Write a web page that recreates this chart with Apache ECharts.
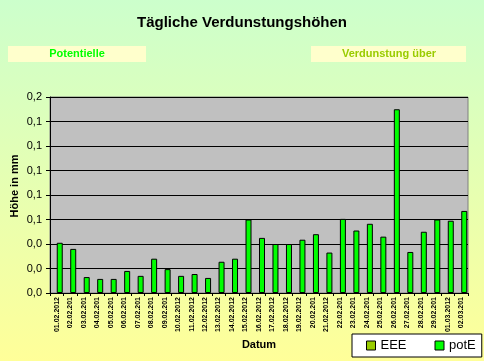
<!DOCTYPE html>
<html>
<head>
<meta charset="utf-8">
<script src="https://cdn.jsdelivr.net/npm/echarts@6/dist/echarts.min.js"></script>
<style>
html,body{margin:0;padding:0;}
#chart{width:484px;height:361px;}
</style>
</head>
<body>
<div id="chart"></div>
<script>
var categories = ['01.02.2012','02.02.201','03.02.201','04.02.201','05.02.201','06.02.201','07.02.201','08.02.201','09.02.201','10.02.2012','11.02.2012','12.02.2012','13.02.2012','14.02.2012','15.02.2012','16.02.2012','17.02.2012','18.02.2012','19.02.2012','20.02.201','21.02.2012','22.02.201','23.02.201','24.02.201','25.02.201','26.02.201','27.02.201','28.02.201','29.02.201','01.03.2012','02.03.201'];
var potE = [0.041,0.036,0.013,0.0115,0.0115,0.018,0.014,0.028,0.0195,0.014,0.0155,0.0123,0.0255,0.028,0.060,0.045,0.040,0.040,0.0435,0.048,0.033,0.0605,0.051,0.0565,0.046,0.150,0.0335,0.050,0.060,0.059,0.067];
var EEE = categories.map(function(){ return '-'; });
var yTickValues = [0,0.02,0.04,0.06,0.08,0.10,0.12,0.14,0.16];
var yTickLabels = ['0,0','0,0','0,0','0,1','0,1','0,1','0,1','0,1','0,2'];

var chart = echarts.init(document.getElementById('chart'), null, {renderer:'canvas'});
var font = 'Arial, "Liberation Sans", sans-serif';
chart.setOption({
  animation:false,
  backgroundColor:{type:'linear',x:0,y:0,x2:0,y2:1,colorStops:[{offset:0,color:'#CCFFCC'},{offset:1,color:'#FFFF99'}]},
  textStyle:{fontFamily:font},
  title:{text:'Tägliche Verdunstungshöhen',left:'center',top:10,textStyle:{fontSize:15,fontWeight:'bold',color:'#000',fontFamily:font}},
  graphic:[
    {type:'rect',shape:{x:8,y:46,width:138,height:16},style:{fill:'#FFFFCC'}},
    {type:'text',x:77,y:54,style:{text:'Potentielle',fill:'#00FF00',font:'bold 11px '+font,textAlign:'center',textVerticalAlign:'middle'}},
    {type:'rect',shape:{x:311,y:46,width:155,height:16},style:{fill:'#FFFFCC'}},
    {type:'text',x:389,y:54,style:{text:'Verdunstung über',fill:'#99CC00',font:'bold 11px '+font,textAlign:'center',textVerticalAlign:'middle'}},
    {type:'text',x:15,y:186,rotation:Math.PI/2,style:{text:'Höhe in mm',fill:'#000',font:'bold 11px '+font,textAlign:'center',textVerticalAlign:'middle'}}
  ],
  legend:{
    left:352,top:334,orient:'horizontal',
    backgroundColor:'#FFFFFF',borderColor:'#000',borderWidth:1,borderRadius:0,
    padding:[5,6,5,14],itemGap:28,itemWidth:9,itemHeight:9,
    icon:'rect',
    textStyle:{fontSize:13,color:'#000',fontFamily:font},
    data:[{name:'EEE',itemStyle:{color:'#99CC00',borderColor:'#000',borderWidth:1}},{name:'potE',itemStyle:{color:'#00FF00',borderColor:'#000',borderWidth:1}}]
  },
  grid:{left:50,right:16,top:97,bottom:68,containLabel:false,outerBoundsMode:'none',show:true,backgroundColor:'#C0C0C0',borderColor:'#808080',borderWidth:1},
  xAxis:{
    type:'category',data:categories,boundaryGap:true,
    name:'Datum',nameLocation:'middle',nameGap:46,
    nameTextStyle:{fontSize:11,fontWeight:'bold',color:'#000'},
    axisLine:{lineStyle:{color:'#000',width:1}},
    axisTick:{show:true,interval:0,length:3,lineStyle:{color:'#000'}},
    axisLabel:{interval:0,rotate:90,fontSize:7,fontWeight:'bold',color:'#000',margin:4}
  },
  yAxis:{
    type:'value',min:0,max:0.16,interval:0.02,
    axisLine:{show:true,lineStyle:{color:'#000',width:1}},
    axisTick:{show:true,length:4,lineStyle:{color:'#000'}},
    splitLine:{show:true,lineStyle:{color:'#000',width:1}},
    axisLabel:{fontSize:11,color:'#000',margin:8,formatter:function(v){
      for(var i=0;i<yTickValues.length;i++){ if(Math.abs(v-yTickValues[i])<1e-9) return yTickLabels[i]; }
      return '';
    }}
  },
  series:[
    {name:'EEE',type:'bar',data:EEE,barWidth:6,barGap:'0%',itemStyle:{color:'#99CC00',borderColor:'#000',borderWidth:1}},
    {name:'potE',type:'bar',data:potE,barWidth:6,barGap:'0%',itemStyle:{color:'#00FF00',borderColor:'#000',borderWidth:1}}
  ]
});
</script>
</body>
</html>
